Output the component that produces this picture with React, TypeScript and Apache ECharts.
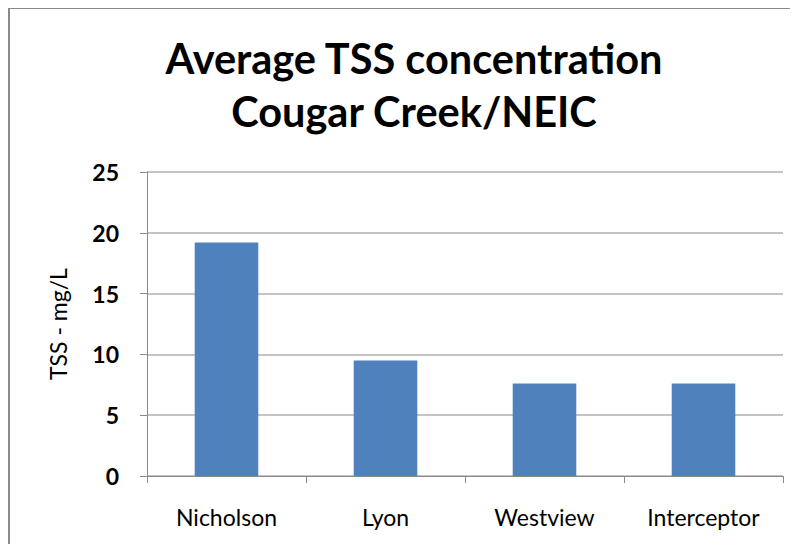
import React, { useEffect, useRef } from "react";
import * as echarts from "echarts";

const categories = ["Nicholson", "Lyon", "Westview", "Interceptor"];
const tssValues = [19.2, 9.5, 7.6, 7.6];
const yTicks = { min: 0, max: 25, interval: 5 };
const titleLines = ["Average TSS concentration", "Cougar Creek/NEIC"];
const yAxisName = "TSS - mg/L";

export default function App() {
  const ref = useRef<HTMLDivElement>(null);
  useEffect(() => {
    if (!ref.current) return;
    const chart = echarts.init(ref.current, null, { renderer: "svg" });
    const font = "Lato, 'Open Sans', sans-serif";
    chart.setOption({
      animation: false,
      backgroundColor: "#ffffff",
      graphic: [
        {
          type: "rect",
          shape: { x: 9, y: 8, width: 900, height: 700 },
          style: { fill: "none", stroke: "#8a8a8a", lineWidth: 2 },
          silent: true,
        },
      ],
      title: {
        text: titleLines.join("\n"),
        left: 409,
        top: 26,
        textAlign: "center",
        textStyle: {
          fontFamily: font,
          fontSize: 41.5,
          fontWeight: "bold",
          color: "#000",
          lineHeight: 53,
        },
      },
      grid: { left: 147, right: 15, top: 172, bottom: 76, containLabel: false },
      xAxis: {
        type: "category",
        data: categories,
        axisLine: { lineStyle: { color: "#8a8a8a", width: 1 } },
        axisTick: { show: true, alignWithLabel: false, length: 7, lineStyle: { color: "#8a8a8a" } },
        axisLabel: { fontFamily: font, fontSize: 23, color: "#000", margin: 29 },
      },
      yAxis: {
        type: "value",
        min: yTicks.min,
        max: yTicks.max,
        interval: yTicks.interval,
        name: yAxisName,
        nameLocation: "middle",
        nameGap: 78,
        nameRotate: 90,
        nameTextStyle: { fontFamily: font, fontSize: 23, color: "#000" },
        axisLine: { show: true, lineStyle: { color: "#8a8a8a" } },
        axisTick: { show: true, length: 7, lineStyle: { color: "#8a8a8a" } },
        axisLabel: { fontFamily: font, fontSize: 23, fontWeight: "bold", color: "#000", margin: 28 },
        splitLine: { lineStyle: { color: "#b0b0b0", width: 1.5 } },
      },
      series: [
        {
          type: "bar",
          data: tssValues,
          barCategoryGap: "60%",
          itemStyle: { color: "#4f81bd" },
        },
      ],
    });
    return () => chart.dispose();
  }, []);
  return <div ref={ref} style={{ width: 798, height: 552, margin: -8 }} />;
}
